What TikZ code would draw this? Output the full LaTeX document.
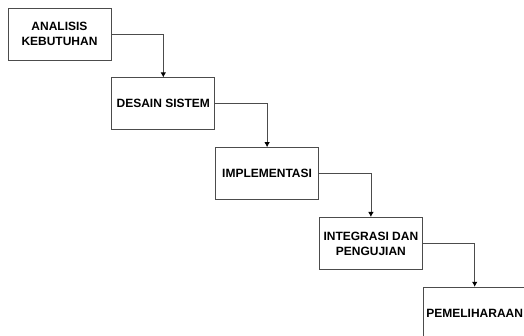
\documentclass[tikz,border=0pt]{standalone}
\usepackage{fontspec}
\setmainfont{Liberation Sans}
\usetikzlibrary{arrows.meta,positioning}
\tikzstyle{phase}=[draw=black!70, fill=white, align=center, minimum width=103pt, minimum height=52pt, inner sep=2pt, line width=0.8pt]
\tikzstyle{flow}=[->, draw=black!70, line width=0.8pt]

\begin{document}
\begin{tikzpicture}[>={Latex[length=5pt,width=5.5pt,color=black]},font=\bfseries\fontsize{12}{15}\selectfont,align=center]
        \useasboundingbox (0,0) rectangle (524pt,-336pt);
        \clip (0,0) rectangle (524pt,-336pt);
        \node [phase] (analisis) at (59.5pt,-34pt) {ANALISIS\\KEBUTUHAN};
        \node [phase] (desain) [below right=17pt and 0pt of analisis] {DESAIN SISTEM};
        \node [phase] (implementasi) [below right=17pt and 0pt of desain] {IMPLEMENTASI};
        \node [phase] (integrasi) [below right=17pt and 0pt of implementasi] {INTEGRASI DAN\\PENGUJIAN};
        \node [phase] (pemeliharaan) [below right=17pt and 0pt of integrasi] {PEMELIHARAAN};
        \draw[flow] (analisis) -| (desain);
        \draw[flow] (desain) -| (implementasi);
        \draw[flow] (implementasi) -| (integrasi);
        \draw[flow] (integrasi) -| (pemeliharaan);
    \end{tikzpicture}
\end{document}
